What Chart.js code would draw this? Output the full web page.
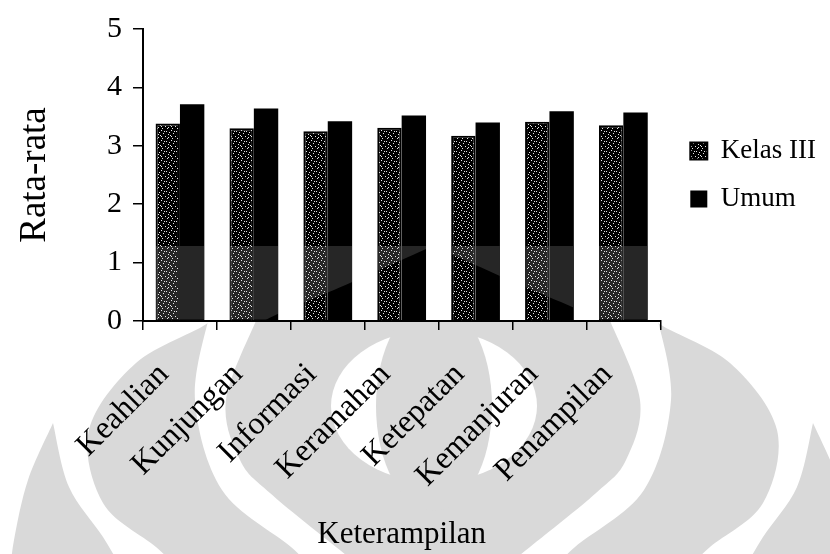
<!DOCTYPE html>
<html>
<head>
<meta charset="utf-8">
<script src="https://cdn.jsdelivr.net/npm/chart.js@4.4.1/dist/chart.umd.min.js"></script>
<style>
  html, body { margin: 0; padding: 0; background: #fff; }
  #wrap { width: 830px; height: 554px; }
</style>
</head>
<body>
<div id="wrap"><canvas id="c" width="830" height="554"></canvas></div>
<script>
// Average scores per skill
const categories = ['Keahlian', 'Kunjungan', 'Informasi', 'Keramahan', 'Ketepatan', 'Kemanjuran', 'Penampilan'];
const kelasIII = [3.38, 3.30, 3.25, 3.31, 3.17, 3.41, 3.35];
const umum = [3.71, 3.64, 3.42, 3.52, 3.40, 3.59, 3.57];
const seriesNames = ['Kelas III', 'Umum'];
const yTickValues = [0, 1, 2, 3, 4, 5];
const xTitle = 'Keterampilan';
const yTitle = 'Rata-rata';

const SERIF = "'Liberation Serif', 'Times New Roman', serif";
const INK = '#000';
const SHADE = '#d9d9d9';

// Black fill with a fine white speckle
function speckle() {
  const c = document.createElement('canvas');
  c.width = 10; c.height = 10;
  const g = c.getContext('2d');
  g.fillStyle = '#000';
  g.fillRect(0, 0, 10, 10);
  g.fillStyle = '#e8e8e8';
  [[1,0],[6,1],[9,2],[3,3],[8,4],[0,5],[5,6],[2,8],[7,8],[4,1],[1,6],[8,7]]
    .forEach(([x, y]) => g.fillRect(x, y, 1, 1));
  return g.createPattern(c, 'repeat');
}

// Smooth curve through a list of points (Catmull-Rom)
function curveThrough(ctx, pts, start) {
  if (start) ctx.moveTo(pts[0][0], pts[0][1]); else ctx.lineTo(pts[0][0], pts[0][1]);
  for (let i = 0; i < pts.length - 1; i++) {
    const p0 = pts[i - 1] || pts[i], p1 = pts[i], p2 = pts[i + 1], p3 = pts[i + 2] || p2;
    ctx.bezierCurveTo(
      p1[0] + (p2[0] - p0[0]) / 6, p1[1] + (p2[1] - p0[1]) / 6,
      p2[0] - (p3[0] - p1[0]) / 6, p2[1] - (p3[1] - p1[1]) / 6,
      p2[0], p2[1]);
  }
}
const MID = 866;
const mirror = pts => pts.map(([x, y]) => [MID - x, y]);

function fillSymmetric(ctx, leftEdge, color) {
  ctx.beginPath();
  curveThrough(ctx, leftEdge, true);
  curveThrough(ctx, mirror(leftEdge).reverse(), false);
  ctx.closePath();
  ctx.fillStyle = color;
  ctx.fill();
}
function fillBand(ctx, edgeA, edgeB, color) {
  ctx.beginPath();
  curveThrough(ctx, edgeA, true);
  curveThrough(ctx, edgeB.slice().reverse(), false);
  ctx.closePath();
  ctx.fillStyle = color;
  ctx.fill();
}

// Emblem shapes of the page background
const ringEdge = [[209,300],[209,322],[136,363],[89,430],[103,503],[156,547],[185,575]];
const stripeOuter = [[209,316],[195,400],[222,490],[291,547],[318,575]];
const stripeInner = [[258,316],[226,400],[240,460],[270,493],[336,547],[372,575]];
const wingOuter = [[53,423],[28,480],[14,540],[10,575]];
const wingInner = [[53,423],[69,487],[103,537],[125,575]];
const domeTop = [[433,246],[350,283],[262,322],[245,345]];

const emblem = {
  id: 'emblem',
  beforeDraw(chart) {
    const ctx = chart.ctx;
    ctx.save();
    ctx.fillStyle = '#fff';
    ctx.fillRect(0, 0, chart.width, chart.height);
    const below = chart.scales.x.top + 1;
    ctx.beginPath();
    ctx.rect(0, below, chart.width, chart.height - below);
    ctx.clip();
    fillSymmetric(ctx, ringEdge, SHADE);
    fillBand(ctx, stripeOuter, stripeInner, '#fff');
    fillBand(ctx, mirror(stripeOuter), mirror(stripeInner), '#fff');
    ctx.beginPath();
    ctx.ellipse(434, 406, 103, 76, 0, 0, Math.PI * 2);
    ctx.fillStyle = '#fff';
    ctx.fill();
    ctx.beginPath();
    ctx.ellipse(434, 406, 58, 105, 0, 0, Math.PI * 2);
    ctx.fillStyle = SHADE;
    ctx.fill();
    fillBand(ctx, wingOuter, wingInner, SHADE);
    fillBand(ctx, mirror(wingOuter), mirror(wingInner), SHADE);
    ctx.restore();
  },
  afterDatasetsDraw(chart) {
    const ctx = chart.ctx;
    const a = chart.chartArea;
    const top = 246;
    ctx.save();
    ctx.beginPath();
    ctx.rect(a.left + 2, top, a.right - a.left - 4, a.bottom - 1.5 - top);
    ctx.clip();
    ctx.beginPath();
    ctx.rect(0, 0, chart.width, chart.height);
    curveThrough(ctx, domeTop, true);
    curveThrough(ctx, mirror(domeTop).reverse(), false);
    ctx.closePath();
    ctx.globalCompositeOperation = 'lighten';
    ctx.fillStyle = '#262626';
    ctx.fill('evenodd');
    ctx.restore();
  }
};

new Chart(document.getElementById('c'), {
  type: 'bar',
  data: {
    labels: categories,
    datasets: [
      { label: seriesNames[0], data: kelasIII, backgroundColor: speckle(), borderColor: INK, borderWidth: 2, borderSkipped: 'bottom' },
      { label: seriesNames[1], data: umum, backgroundColor: INK, borderColor: INK, borderWidth: 0 }
    ]
  },
  options: {
    responsive: false,
    animation: false,
    devicePixelRatio: 1,
    categoryPercentage: 0.66,
    barPercentage: 1,
    layout: { padding: { top: 29, left: 10, right: 4, bottom: 0 } },
    plugins: {
      tooltip: { enabled: false },
      legend: {
        position: 'right',
        fullSize: false,
        maxWidth: 220,
        labels: {
          color: INK,
          font: { family: SERIF, size: 27 },
          boxWidth: 17,
          boxHeight: 17,
          padding: 21
        }
      }
    },
    scales: {
      x: {
        offset: true,
        grid: { display: true, offset: true, drawOnChartArea: false, drawTicks: true, tickLength: 9, color: INK, lineWidth: 1.5 },
        border: { display: true, color: INK, width: 2 },
        ticks: { color: INK, font: { family: SERIF, size: 32 }, minRotation: 45, maxRotation: 45, autoSkip: false, padding: 26, labelOffset: -16 },
        title: { display: true, text: xTitle, color: INK, font: { family: SERIF, size: 31 }, padding: { top: 0, bottom: 1 } },
        afterFit(s) { s.height = 233; }
      },
      y: {
        min: 0,
        max: 5,
        afterBuildTicks(s) { s.ticks = yTickValues.map(v => ({ value: v })); },
        grid: { display: true, drawOnChartArea: false, drawTicks: true, tickLength: 10, color: INK, lineWidth: 1.5 },
        border: { display: true, color: INK, width: 2 },
        ticks: { color: INK, font: { family: SERIF, size: 30 }, padding: 11 },
        title: { display: true, text: yTitle, color: INK, font: { family: SERIF, size: 37 }, padding: { top: 3, bottom: 0 } },
        afterFit(s) { s.width = 133; }
      },
      gap: {
        type: 'linear',
        position: 'right',
        display: true,
        grid: { display: false },
        border: { display: false },
        ticks: { display: false },
        afterFit(s) { s.width = 9; }
      }
    }
  },
  plugins: [emblem]
});
</script>
</body>
</html>
